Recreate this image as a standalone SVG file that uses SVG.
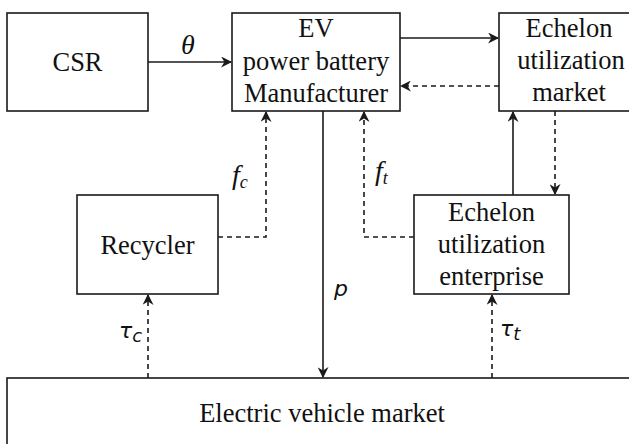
<svg xmlns="http://www.w3.org/2000/svg" width="629" height="444" viewBox="0 0 629 444">
<defs>
<style>
.box{fill:#fff;stroke:#1a1a1a;stroke-width:1.6}
.t{font-family:"Liberation Serif","Times New Roman",serif;font-size:26.5px;fill:#111;text-anchor:middle}
.m{font-family:"Liberation Serif","Times New Roman",serif;font-style:italic;font-size:28px;fill:#111}
.s{font-family:"DejaVu Sans",sans-serif;font-style:oblique;font-size:22px;fill:#111}
.sub{font-size:18px}
.ln{fill:none;stroke:#1a1a1a;stroke-width:1.6}
.d{stroke-dasharray:5,4}
</style>
<marker id="ah" viewBox="0 0 10 10" refX="9" refY="5" markerWidth="11" markerHeight="11" markerUnits="userSpaceOnUse" orient="auto">
<path d="M0,0 L10,5 L0,10 L3,5 Z" fill="#1a1a1a"/>
</marker>
</defs>
<rect width="629" height="444" fill="#fff"/>
<g id="connectors">
<line class="ln" x1="148" y1="62" x2="231" y2="62" marker-end="url(#ah)"/>
<line class="ln" x1="400" y1="38" x2="498" y2="38" marker-end="url(#ah)"/>
<line class="ln d" x1="499" y1="86" x2="401" y2="86" marker-end="url(#ah)"/>
<polyline class="ln d" points="218,237 266,237 266,112" marker-end="url(#ah)"/>
<polyline class="ln d" points="414,237 364,237 364,112" marker-end="url(#ah)"/>
<line class="ln" x1="323" y1="111" x2="323" y2="377" marker-end="url(#ah)"/>
<line class="ln" x1="513" y1="195" x2="513" y2="112" marker-end="url(#ah)"/>
<line class="ln d" x1="555" y1="111" x2="555" y2="194" marker-end="url(#ah)"/>
<line class="ln d" x1="148" y1="378" x2="148" y2="295" marker-end="url(#ah)"/>
<line class="ln d" x1="492" y1="378" x2="492" y2="295" marker-end="url(#ah)"/>
<text class="m" x="181" y="54">θ</text>
<text class="m" x="232" y="184">f<tspan class="sub" dy="4">c</tspan></text>
<text class="m" x="375" y="180">f<tspan class="sub" dy="4">t</tspan></text>
<text class="s" x="334" y="296">p</text>
<text class="s" x="119" y="338">τ<tspan class="sub" dy="4">c</tspan></text>
<text class="s" x="500" y="336">τ<tspan class="sub" dy="4">t</tspan></text>
</g>
<g id="csr">
<rect class="box" x="7" y="13" width="141" height="98"/>
<text class="t" x="77.5" y="71">CSR</text>
</g>
<g id="manufacturer">
<rect class="box" x="232" y="13" width="168" height="98"/>
<text class="t" x="316" y="37">EV</text>
<text class="t" x="316" y="70">power battery</text>
<text class="t" x="316" y="102">Manufacturer</text>
</g>
<g id="echelon-market">
<rect class="box" x="499" y="13" width="141" height="98"/>
<text class="t" x="569" y="37">Echelon</text>
<text class="t" x="571" y="69">utilization</text>
<text class="t" x="569" y="101">market</text>
</g>
<g id="recycler">
<rect class="box" x="77" y="195" width="141" height="99"/>
<text class="t" x="147.5" y="254">Recycler</text>
</g>
<g id="echelon-enterprise">
<rect class="box" x="414" y="195" width="155" height="99"/>
<text class="t" x="491.5" y="221">Echelon</text>
<text class="t" x="491.5" y="253">utilization</text>
<text class="t" x="491.5" y="285">enterprise</text>
</g>
<g id="ev-market">
<rect class="box" x="7" y="378" width="632" height="80"/>
<text class="t" x="322" y="422">Electric vehicle market</text>
</g>
</svg>
